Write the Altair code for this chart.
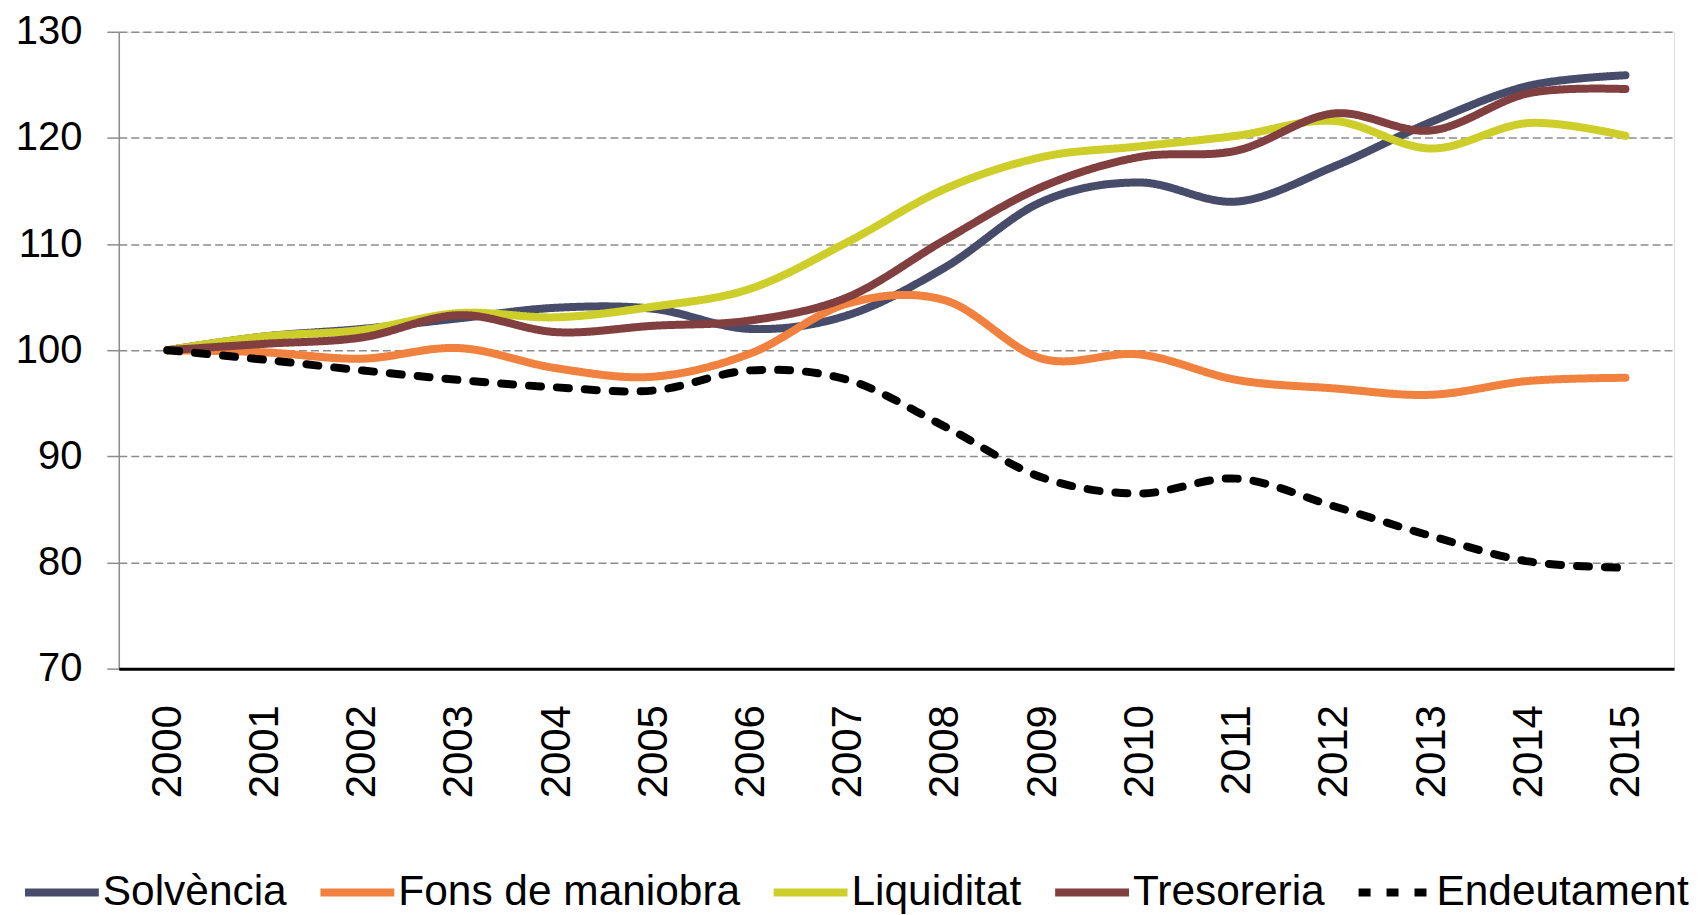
import altair as alt
import pandas as pd

years = [str(y) for y in range(2000, 2016)]
series_names = ["Solvència", "Fons de maniobra", "Liquiditat", "Tresoreria", "Endeutament"]
series_colors = ["#474C6B", "#F0813E", "#CDCE2A", "#823F3F", "#000000"]
series_dash = [[1, 0], [1, 0], [1, 0], [1, 0], [12, 16]]
series_width = [8, 8, 8, 8, 8]

solvencia = [100, 101.3, 102.0, 103.0, 104.0, 103.9, 102.0, 103.3, 107.8, 114.0, 115.8, 114.0, 117.3, 121.5, 124.9, 125.9]
fons = [100, 99.8, 99.2, 100.2, 98.3, 97.5, 99.7, 104.4, 104.7, 99.2, 99.6, 97.2, 96.4, 95.8, 97.1, 97.4]
liquiditat = [100, 101.3, 101.9, 103.5, 103.1, 104.1, 105.8, 110.2, 115.2, 118.2, 119.2, 120.2, 121.6, 119.0, 121.4, 120.2]
tresoreria = [100, 100.6, 101.2, 103.3, 101.7, 102.3, 102.8, 105.0, 110.4, 115.4, 118.2, 118.8, 122.3, 120.7, 124.2, 124.6]
endeutament = [100, 99.1, 98.1, 97.2, 96.5, 96.2, 98.1, 97.2, 92.8, 88.0, 86.5, 87.9, 85.3, 82.5, 80.1, 79.5]

rows = []
for name, vals in zip(series_names, [solvencia, fons, liquiditat, tresoreria, endeutament]):
    for y, v in zip(years, vals):
        rows.append({"year": y, "value": v, "series": name, "order": series_names.index(name)})
df = pd.DataFrame(rows)

FONT = "Liberation Sans"

def make_legend():
    return alt.Legend(
        title=None, orient="none", direction="horizontal",
        legendX=-98, legendY=821,
        symbolType="stroke", symbolSize=5476, symbolStrokeWidth=8,
        labelFontSize=42.5, labelFont=FONT, labelColor="#000000",
        labelOffset=0, columnPadding=17, labelLimit=0,
    )

chart = alt.Chart(df).mark_line(
    interpolate="cardinal", strokeCap="round", strokeJoin="round"
).encode(
    x=alt.X("year:O", scale=alt.Scale(type="point", padding=0.5),
            axis=alt.Axis(title=None, labelAngle=-90, ticks=False, tickSize=0,
                          labelPadding=36, labelFontSize=42, labelColor="#000000",
                          labelFont=FONT, domainColor="#000000", domainWidth=3,
                          grid=False, zindex=1)),
    y=alt.Y("value:Q", scale=alt.Scale(domain=[70, 130], nice=False, zero=False),
            axis=alt.Axis(title=None, values=[70, 80, 90, 100, 110, 120, 130],
                          labelFontSize=40, labelColor="#000000", labelFont=FONT,
                          labelPadding=25, tickSize=12, tickColor="#8C8C8C", tickWidth=1.5,
                          domainColor="#8C8C8C", domainWidth=1.5,
                          grid=True, gridColor="#8C8C8C", gridDash=[8, 4], gridWidth=1.5)),
    color=alt.Color("series:N", scale=alt.Scale(domain=series_names, range=series_colors),
                    legend=make_legend()),
    strokeDash=alt.StrokeDash("series:N",
                              scale=alt.Scale(domain=series_names, range=series_dash),
                              legend=make_legend()),
    strokeWidth=alt.StrokeWidth("series:N",
                                scale=alt.Scale(type="ordinal", domain=series_names, range=series_width),
                                legend=make_legend()),
    order=alt.Order("order:Q"),
).properties(
    width=1558, height=638,
    autosize=alt.AutoSizeParams(type="none"),
    padding={"left": 111, "top": 23, "right": 20, "bottom": 248},
).configure_view(stroke=None).configure(font=FONT)

chart.save("out.html", embed_options={"renderer": "svg", "actions": False})
